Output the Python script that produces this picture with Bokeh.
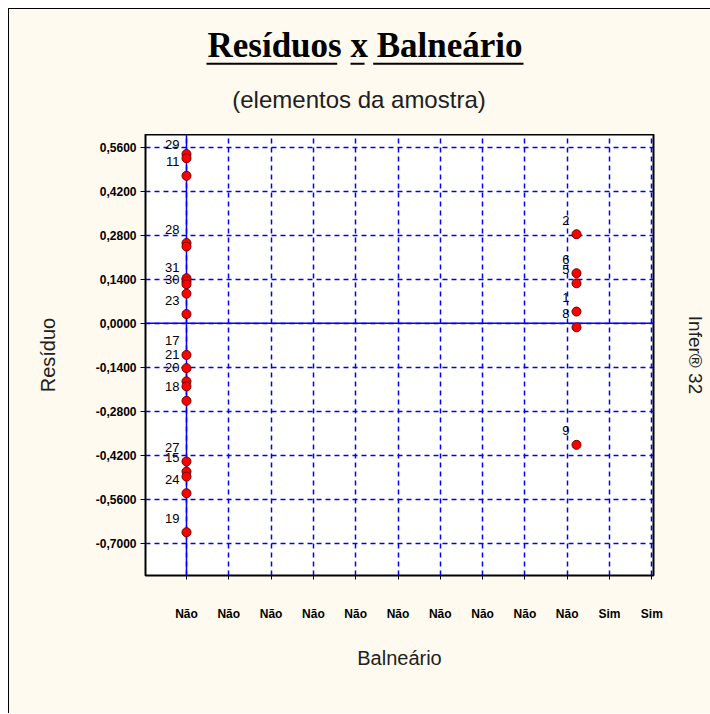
from bokeh.plotting import figure
from bokeh.layouts import column
from bokeh.models import (FixedTicker, CustomJSTickFormatter, Span, Label, BoxAnnotation,
                          LinearAxis, ColumnDataSource, Range1d)
from bokeh.core.properties import value
from bokeh.embed import file_html
from bokeh.resources import INLINE

# ---- data ----
elemento = ["", "29", "11", "28", "", "", "31", "", "30", "23",
            "17", "21", "20", "", "18", "27", "15", "", "24", "19",
            "2", "6", "5", "1", "8", "9"]
balneario = ["Não"] * 20 + ["Sim"] * 6
residuo = [0.538, 0.525, 0.469, 0.255, 0.244, 0.143, 0.133, 0.124, 0.094, 0.029,
           -0.101, -0.143, -0.185, -0.201, -0.247, -0.440, -0.472, -0.488, -0.541, -0.665,
           0.283, 0.159, 0.127, 0.037, -0.013, -0.387]

categoria_codigo = {"Não": 0.0, "Sim": 1.0}
x_tick_labels = ["Não"] * 10 + ["Sim"] * 2
y_ticks = [0.56, 0.42, 0.28, 0.14, 0.0, -0.14, -0.28, -0.42, -0.56, -0.70]

titulo = "Resíduos x Balneário"
subtitulo = "(elementos da amostra)"

# ---- style / layout ----
BG = "#FFFAEF"
BLUE = "#0000FF"
FRAME_W = 508
HEAD_H = 125
x_step = 42.3 / 390.0
x_ticks = [k * x_step for k in range(len(x_tick_labels))]

# ---- header (title + subtitle); its frame is aligned with the chart frame ----
head = figure(frame_width=FRAME_W, frame_height=HEAD_H,
              x_range=Range1d(0, FRAME_W), y_range=Range1d(HEAD_H, 0),
              output_backend="svg", toolbar_location=None,
              x_axis_location=None, y_axis_location=None,
              min_border_left=136, min_border_right=58,
              min_border_top=0, min_border_bottom=0,
              background_fill_color=BG, border_fill_color=BG)
head.outline_line_color = None
head.grid.visible = False
head.add_layout(Label(x=219.5, y=36, text=titulo, text_align="center",
                      text_baseline="middle", text_font="Liberation Serif",
                      text_font_style="bold", text_font_size="35px", text_color="black"))
for (l, r) in [(61, 191.7), (205, 219), (227.7, 378)]:
    head.add_layout(BoxAnnotation(left=l, right=r, top=53.3, bottom=55.3,
                                  fill_color="black", fill_alpha=1.0, line_color=None))
head.add_layout(Label(x=213.5, y=90, text=subtitulo, text_align="center",
                      text_baseline="middle", text_font="Liberation Sans",
                      text_font_size="24px", text_color="#202020"))

# ---- main chart ----
src = ColumnDataSource(dict(
    x=[categoria_codigo[b] for b in balneario],
    y=residuo,
    label=elemento,
))

p = figure(frame_width=FRAME_W, frame_height=441,
           x_range=Range1d(-0.1051, 1.1974), y_range=Range1d(-0.8027, 0.6004),
           output_backend="svg", toolbar_location=None,
           min_border_left=136, min_border_top=0, min_border_right=58, min_border_bottom=138,
           background_fill_color="white", border_fill_color=BG)
p.outline_line_color = "black"
p.outline_line_width = 2

p.xaxis.ticker = FixedTicker(ticks=x_ticks)
p.xaxis.formatter = CustomJSTickFormatter(args=dict(labels=x_tick_labels),
                                          code="return labels[index];")
p.yaxis.ticker = FixedTicker(ticks=y_ticks)
p.yaxis.formatter = CustomJSTickFormatter(
    code="if (Math.abs(tick) < 1e-9) { return '0,0000'; } return tick.toFixed(4).replace('.', ',');")
for ax in (p.xaxis, p.yaxis):
    ax.axis_line_color = None
    ax.major_tick_in = 0
    ax.minor_tick_line_color = None
    ax.major_tick_line_color = "black"
    ax.major_label_text_font = "Liberation Sans"
    ax.major_label_text_font_style = "bold"
    ax.major_label_text_font_size = "12px"
    ax.major_label_text_color = "black"
    ax.axis_label_text_font = "Liberation Sans"
    ax.axis_label_text_font_style = "normal"
    ax.axis_label_text_font_size = "20px"
    ax.axis_label_text_color = "#202020"
p.xaxis.major_tick_out = 4
p.xaxis.major_label_standoff = 27
p.xaxis.axis_label = "Balneário"
p.xaxis.axis_label_standoff = 23
p.yaxis.major_tick_out = 5
p.yaxis.major_label_standoff = 4
p.yaxis.axis_label = "Resíduo"
p.yaxis.axis_label_standoff = 34

rax = LinearAxis(axis_label="Infer® 32", ticker=FixedTicker(ticks=[]),
                 axis_line_color=None, major_tick_out=0, major_tick_in=0,
                 minor_tick_line_color=None, axis_label_standoff=31,
                 axis_label_text_font="Liberation Sans", axis_label_text_font_style="normal",
                 axis_label_text_font_size="19px", axis_label_text_color="#202020")
p.add_layout(rax, "right")

for g in (p.xgrid, p.ygrid):
    g.grid_line_color = BLUE
    g.grid_line_dash = "5 4"
    g.grid_line_width = 1.5
p.xgrid.ticker = FixedTicker(ticks=x_ticks)
p.ygrid.ticker = FixedTicker(ticks=y_ticks)

p.add_layout(Span(location=0, dimension="width", line_color=BLUE, line_width=1.5, level="underlay"))
p.add_layout(Span(location=categoria_codigo["Não"], dimension="height", line_color=BLUE,
                  line_width=1.5, level="underlay"))

p.text(x="x", y="y", text="label", source=src, x_offset=-7, y_offset=-14,
       text_align="right", text_baseline="middle",
       text_font=value("Liberation Sans"), text_font_size="13px", text_color="black")
p.scatter(x="x", y="y", source=src, size=9, fill_color="#FF0000", line_color="#6a0000", line_width=1)

layout = column(head, p, spacing=0)
layout.styles = {"margin-left": "8px", "margin-top": "8px",
                 "border-left": "1px solid black", "border-top": "1px solid black",
                 "background-color": BG}

open("out.html", "w").write(file_html(layout, INLINE))
